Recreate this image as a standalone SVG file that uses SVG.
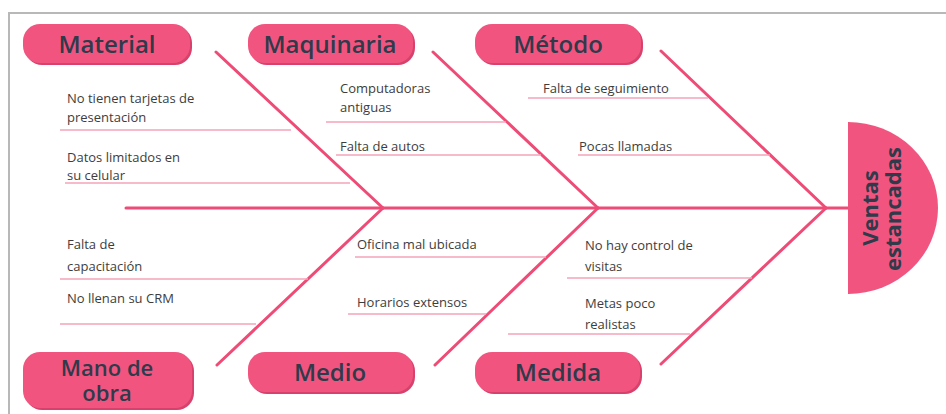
<svg xmlns="http://www.w3.org/2000/svg" width="946" height="414" viewBox="0 0 946 414">
<style>
.bone{stroke:#ee4b76;stroke-width:3;stroke-linecap:round;fill:none}
.sub{stroke:#f4a3b8;stroke-width:1.6;fill:none}
.pill{fill:#f1557f}
.shadow{fill:#d8416b}
.ptxt{font-family:"Open Sans","Noto Sans",sans-serif;font-weight:600;font-size:24px;fill:#2f3a4b;text-anchor:middle}
.ptxt2{font-family:"Open Sans","Noto Sans",sans-serif;font-weight:600;font-size:22px;fill:#2f3a4b;text-anchor:middle}
.t{font-family:"Open Sans","Noto Sans",sans-serif;font-size:13px;fill:#3d3d3d}
.head{font-family:"Open Sans","Noto Sans",sans-serif;font-weight:700;font-size:22px;fill:#2f3a4b;text-anchor:middle}
</style>
<rect width="946" height="414" fill="#ffffff"/>
<path d="M9,414 V13 H946" fill="none" stroke="#b8b8b8" stroke-width="2"/>

<g id="connectors">
  <line class="bone" x1="126" y1="208" x2="848" y2="208"/>
  <line class="bone" x1="216" y1="52" x2="383" y2="208"/>
  <line class="bone" x1="433" y1="52" x2="598" y2="208"/>
  <line class="bone" x1="661" y1="51" x2="826" y2="208"/>
  <line class="bone" x1="383" y1="208" x2="217" y2="365"/>
  <line class="bone" x1="598" y1="208" x2="435" y2="365"/>
  <line class="bone" x1="826" y1="208" x2="661" y2="364"/>
  <line class="sub" x1="60" y1="130" x2="291" y2="130"/>
  <line class="sub" x1="65" y1="183" x2="350" y2="183"/>
  <line class="sub" x1="326" y1="122" x2="506" y2="122"/>
  <line class="sub" x1="336" y1="155" x2="541" y2="155"/>
  <line class="sub" x1="528" y1="98" x2="708" y2="98"/>
  <line class="sub" x1="578" y1="155" x2="770" y2="155"/>
  <line class="sub" x1="60" y1="279" x2="308" y2="279"/>
  <line class="sub" x1="60" y1="324" x2="256" y2="324"/>
  <line class="sub" x1="355" y1="257" x2="546" y2="257"/>
  <line class="sub" x1="348" y1="314" x2="486" y2="314"/>
  <line class="sub" x1="567" y1="278" x2="752" y2="278"/>
  <line class="sub" x1="508" y1="334" x2="690" y2="334"/>
</g>

<g id="head">
  <path d="M848,122 A90,86 0 0 1 848,294 Z" fill="#f1557f"/>
  <text class="head" transform="translate(878,208) rotate(-90)">Ventas</text>
  <text class="head" transform="translate(901,209) rotate(-90)">estancadas</text>
</g>

<g id="material">
  <rect class="shadow" x="25" y="26" width="167" height="39" rx="17"/>
  <rect class="pill" x="23" y="24" width="167" height="39" rx="17"/>
  <text class="ptxt" x="107" y="53">Material</text>
</g>
<g id="maquinaria">
  <rect class="shadow" x="250" y="26" width="165" height="39" rx="17"/>
  <rect class="pill" x="248" y="24" width="165" height="39" rx="17"/>
  <text class="ptxt" x="330" y="53">Maquinaria</text>
</g>
<g id="metodo">
  <rect class="shadow" x="477" y="26" width="166" height="39" rx="17"/>
  <rect class="pill" x="475" y="24" width="166" height="39" rx="17"/>
  <text class="ptxt" x="558" y="53">Método</text>
</g>
<g id="mano-de-obra">
  <rect class="shadow" x="25" y="354" width="169" height="56" rx="17"/>
  <rect class="pill" x="23" y="352" width="169" height="56" rx="17"/>
  <text class="ptxt2" x="107" y="376">Mano de</text>
  <text class="ptxt2" x="107" y="401">obra</text>
</g>
<g id="medio">
  <rect class="shadow" x="250" y="354" width="165" height="40" rx="17"/>
  <rect class="pill" x="248" y="352" width="165" height="40" rx="17"/>
  <text class="ptxt" x="330" y="381">Medio</text>
</g>
<g id="medida">
  <rect class="shadow" x="477" y="354" width="165" height="40" rx="17"/>
  <rect class="pill" x="475" y="352" width="165" height="40" rx="17"/>
  <text class="ptxt" x="558" y="381">Medida</text>
</g>

<g id="causes-material">
  <text class="t" x="67" y="103">No tienen tarjetas de</text>
  <text class="t" x="67" y="122">presentación</text>
  <text class="t" x="67" y="162">Datos limitados en</text>
  <text class="t" x="67" y="180">su celular</text>
</g>
<g id="causes-maquinaria">
  <text class="t" x="340" y="93">Computadoras</text>
  <text class="t" x="340" y="112">antiguas</text>
  <text class="t" x="340" y="151">Falta de autos</text>
</g>
<g id="causes-metodo">
  <text class="t" x="543" y="93">Falta de seguimiento</text>
  <text class="t" x="579" y="151">Pocas llamadas</text>
</g>
<g id="causes-mano-de-obra">
  <text class="t" x="67" y="249">Falta de</text>
  <text class="t" x="67" y="271">capacitación</text>
  <text class="t" x="67" y="303">No llenan su CRM</text>
</g>
<g id="causes-medio">
  <text class="t" x="357" y="249">Oficina mal ubicada</text>
  <text class="t" x="357" y="307">Horarios extensos</text>
</g>
<g id="causes-medida">
  <text class="t" x="585" y="250">No hay control de</text>
  <text class="t" x="585" y="271">visitas</text>
  <text class="t" x="585" y="308">Metas poco</text>
  <text class="t" x="585" y="329">realistas</text>
</g>
</svg>
